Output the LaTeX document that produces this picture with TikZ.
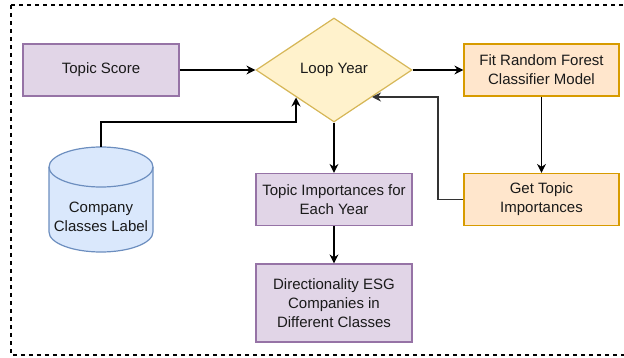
\documentclass[tikz,border=0pt]{standalone}
\usepackage{fontspec}
\setmainfont{Liberation Sans}
\usetikzlibrary{shapes.geometric,arrows.meta}
\definecolor{purpF}{HTML}{E1D5E7}\definecolor{purpD}{HTML}{9673A6}
\definecolor{yelF}{HTML}{FFF2CC}\definecolor{yelD}{HTML}{D6B656}
\definecolor{orF}{HTML}{FFE6CC}\definecolor{orD}{HTML}{D79B00}
\definecolor{bluF}{HTML}{DAE8FC}\definecolor{bluD}{HTML}{6C8EBF}
\definecolor{txt}{HTML}{1A1A1A}
\tikzset{
  box/.style={draw, line width=1.2pt, minimum width=156pt, minimum height=52pt, inner sep=2pt, align=center, text=txt, font=\fontsize{15}{19}\selectfont},
  purp/.style={box, fill=purpF, draw=purpD},
  oran/.style={box, fill=orF, draw=orD},
  conn/.style={line width=1.3pt, -{Stealth[length=9pt,width=9pt]}},
}
\begin{document}
\begin{tikzpicture}[x=1pt,y=-1pt]
\useasboundingbox (0,0) rectangle (624,358);
\draw[line width=1.2pt, dash pattern=on 4pt off 4pt] (11,5) -- (640,5) (11,5) -- (11,355) -- (640,355);
% nodes
\node[purp] (ts) at (101,70) {Topic Score};
\node[diamond, draw=yelD, fill=yelF, line width=1.2pt, minimum width=156pt, minimum height=104pt, inner sep=0pt, aspect=1.5, text=txt, font=\fontsize{15}{19}\selectfont] (ly) at (334,70) {};
\node[text=txt, font=\fontsize{15}{19}\selectfont] at (ly.center) {Loop Year};
\node[oran, minimum width=155pt] (rf) at (541.5,70) {Fit Random Forest\\Classifier Model};
\node[oran, minimum width=155pt] (gt) at (541.5,199.5) {Get Topic\\Importances};
\node[purp] (ti) at (334,199.5) {Topic Importances for\\Each Year};
\node[purp, minimum height=78pt] (dc) at (334,303) {Directionality ESG\\Companies in\\Different Classes};
% cylinder
\draw[fill=bluF, draw=bluD, line width=1.2pt] (49,167) -- (49,232) arc[start angle=180, end angle=360, x radius=52pt, y radius=20pt] -- (153,167) arc[start angle=0, end angle=180, x radius=52pt, y radius=20pt] -- cycle;
\draw[draw=bluD, line width=1.2pt] (49,167) arc[start angle=180, end angle=360, x radius=52pt, y radius=20pt];
\node[text=txt, align=center, font=\fontsize{15}{19}\selectfont] (cc) at (101,217) {Company\\Classes Label};
\coordinate (cctop) at (101,147);
% connectors
\draw[conn] (ts.east) -- (ly.west);
\draw[conn] (cctop) |- (296,122) -- (296,97.5);
\draw[conn] (ly.east) -- (rf.west);
\draw[conn] (rf.south) -- (gt.north);
\draw[conn, draw=black!80] (gt.west) -- (438,199.5) |- (372,97);
\draw[conn] (ly.south) -- (ti.north);
\draw[conn] (ti.south) -- (dc.north);
\end{tikzpicture}
\end{document}
